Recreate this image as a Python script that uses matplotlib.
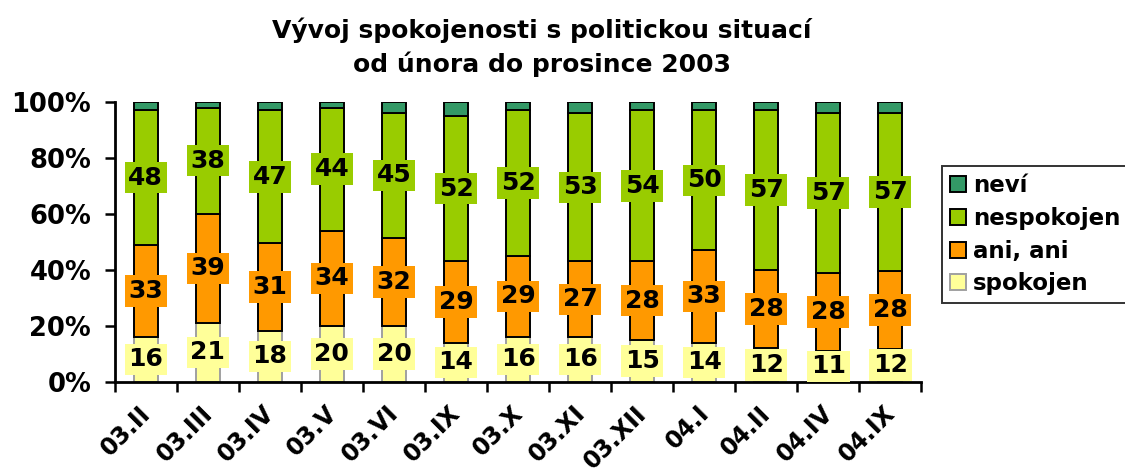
import matplotlib.pyplot as plt
import numpy as np

plt.rcParams['font.family'] = 'DejaVu Sans'

# --- Data ------------------------------------------------------------
periods = ['03.II', '03.III', '03.IV', '03.V', '03.VI', '03.IX', '03.X',
           '03.XI', '03.XII', '04.I', '04.II', '04.IV', '04.IX']
spokojen   = np.array([16, 21, 18, 20, 20, 14, 16, 16, 15, 14, 12, 11, 12])
ani_ani    = np.array([33, 39, 31, 34, 32, 29, 29, 27, 28, 33, 28, 28, 28])
nespokojen = np.array([48, 38, 47, 44, 45, 52, 52, 53, 54, 50, 57, 57, 57])
nevi       = np.array([ 3,  2,  3,  2,  4,  5,  3,  4,  3,  3,  3,  4,  4])

YELLOW = '#FFFF99'
ORANGE = '#FF9900'
GREEN  = '#99CC00'
TEAL   = '#339966'

series = [
    # (label, values, color, edge, show value)
    ('spokojen',   spokojen,   YELLOW, '#A0A0A0', True),
    ('ani, ani',   ani_ani,    ORANGE, 'black',   True),
    ('nespokojen', nespokojen, GREEN,  'black',   True),
    ('neví',       nevi,       TEAL,   'black',   False),
]

total = spokojen + ani_ani + nespokojen + nevi

# --- Figure ----------------------------------------------------------
fig = plt.figure(figsize=(11.25, 4.72), dpi=100)
ax = fig.add_axes([0.102, 0.191, 0.717, 0.593])

x = np.arange(len(periods))
width = 0.39
bottom = np.zeros(len(periods))
handles = []
for label, vals, color, edge, show in series:
    share = vals / total * 100
    bars = ax.bar(x, share, width, bottom=bottom, color=color,
                  edgecolor=edge, linewidth=1.4, label=label, zorder=2)
    handles.append(bars)
    if show:
        for xi, b, s, v in zip(x, bottom, share, vals):
            ax.text(xi, b + s / 2, str(v), ha='center', va='center',
                    fontsize=18, fontweight='bold', color='black', zorder=4,
                    bbox=dict(boxstyle='square,pad=0.15', facecolor=color,
                              edgecolor='none'))
    bottom += share

ax.set_xlim(-0.5, len(periods) - 0.5)
ax.set_ylim(0, 100)
ax.set_yticks(np.arange(0, 101, 20))
ax.set_yticklabels([f'{v}%' for v in range(0, 101, 20)],
                   fontsize=18.5, fontweight='bold')

# category labels at bar centres, tick marks between categories
ax.set_xticks(x - 0.12)
ax.set_xticklabels(periods, rotation=45, ha='right', rotation_mode='anchor',
                   fontsize=17, fontweight='bold')
ax.set_xticks(np.arange(-0.5, len(periods)), minor=True)
ax.tick_params(axis='x', which='major', length=0, pad=14)
ax.tick_params(axis='x', which='minor', length=7, width=1.8, direction='out')
ax.tick_params(axis='y', length=7, width=1.8, direction='out', pad=10)

for side in ['top', 'right']:
    ax.spines[side].set_visible(False)
for side in ['left', 'bottom']:
    ax.spines[side].set_linewidth(2)

leg = ax.legend(handles=handles[::-1], labels=[s[0] for s in series[::-1]],
                loc='upper left', bbox_to_anchor=(1.026, 0.77),
                prop={'size': 16.5, 'weight': 'bold'}, frameon=True,
                fancybox=False, edgecolor='black', handlelength=0.7,
                handleheight=0.7, handletextpad=0.3, labelspacing=0.42,
                borderpad=0.35, borderaxespad=0)
leg.get_frame().set_linewidth(1.4)

fig.text(0.482, 0.9, 'Vývoj spokojenosti s politickou situací\nod února do prosince 2003',
         ha='center', va='center', fontsize=18, fontweight='bold',
         linespacing=1.45)

fig.savefig('out.png', dpi=100, facecolor='white')
